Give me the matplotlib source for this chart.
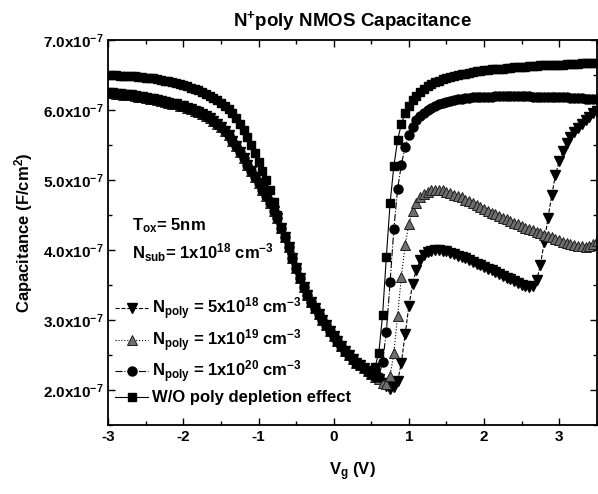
import numpy as np
import matplotlib
matplotlib.use('Agg')
import matplotlib.pyplot as plt
import matplotlib.ticker as ticker

plt.rcParams['font.family'] = 'Liberation Sans'
plt.rcParams['font.weight'] = 'bold'
plt.rcParams['axes.labelweight'] = 'bold'
plt.rcParams['axes.titleweight'] = 'bold'
plt.rcParams['mathtext.fontset'] = 'custom'
plt.rcParams['mathtext.rm'] = 'Liberation Sans:bold'
plt.rcParams['mathtext.it'] = 'Liberation Sans:bold'
plt.rcParams['mathtext.bf'] = 'Liberation Sans:bold'

# gate voltage grid, 0.05 V step
vg = np.round(np.arange(-3.0, 3.501, 0.05), 2)

# capacitance in units of 1e-7 F/cm^2
# accumulation side, -3.00 .. -0.75 V
cap_acc_ideal = [6.50, 6.50, 6.50, 6.49, 6.49, 6.49, 6.48, 6.48, 6.47, 6.47,
                 6.46, 6.46, 6.45, 6.44, 6.43, 6.42, 6.41, 6.40, 6.39, 6.37,
                 6.36, 6.34, 6.32, 6.30, 6.28, 6.26, 6.23, 6.20, 6.17, 6.14,
                 6.10, 6.06, 6.01, 5.95, 5.88, 5.80, 5.71, 5.61, 5.50, 5.38,
                 5.26, 5.13, 5.00, 4.85, 4.68, 4.50]
cap_acc_poly = [6.24, 6.24, 6.23, 6.23, 6.22, 6.21, 6.21, 6.20, 6.19, 6.18,
                6.17, 6.16, 6.15, 6.14, 6.13, 6.11, 6.10, 6.09, 6.08, 6.06,
                6.05, 6.03, 6.01, 5.99, 5.97, 5.94, 5.91, 5.88, 5.84, 5.80,
                5.75, 5.70, 5.64, 5.56, 5.48, 5.40, 5.31, 5.22, 5.13, 5.04,
                4.95, 4.86, 4.77, 4.67, 4.56, 4.45]
# depletion, shared by all curves, -0.70 .. 0.50 V
cap_dep = [4.32, 4.18, 4.04, 3.89, 3.74, 3.60, 3.47, 3.36, 3.26, 3.17,
           3.08, 3.00, 2.92, 2.84, 2.77, 2.70, 2.63, 2.56, 2.50, 2.44,
           2.39, 2.35, 2.31, 2.27, 2.23]
# inversion side, 0.55 .. 3.50 V
inv_5e18 = [2.19, 2.15, 2.10, 2.05, 2.01, 2.04, 2.12, 2.39, 2.80, 3.20,
            3.52, 3.72, 3.85, 3.93, 3.97, 3.99, 4.00, 4.00, 3.99, 3.98,
            3.96, 3.94, 3.92, 3.90, 3.88, 3.85, 3.83, 3.80, 3.78, 3.76,
            3.73, 3.71, 3.68, 3.66, 3.63, 3.60, 3.58, 3.55, 3.53, 3.50,
            3.48, 3.47, 3.49, 3.57, 3.78, 4.12, 4.45, 4.78, 5.07, 5.27,
            5.42, 5.53, 5.61, 5.68, 5.74, 5.80, 5.85, 5.90, 5.95, 5.99]
inv_1e19 = [2.19, 2.15, 2.10, 2.08, 2.20, 2.53, 3.06, 3.62, 4.07, 4.37,
            4.55, 4.67, 4.75, 4.80, 4.83, 4.85, 4.86, 4.86, 4.85, 4.83,
            4.81, 4.79, 4.77, 4.75, 4.72, 4.70, 4.67, 4.64, 4.61, 4.58,
            4.55, 4.53, 4.51, 4.49, 4.46, 4.44, 4.41, 4.39, 4.37, 4.34,
            4.32, 4.30, 4.28, 4.26, 4.24, 4.22, 4.20, 4.18, 4.16, 4.14,
            4.12, 4.10, 4.09, 4.07, 4.06, 4.05, 4.04, 4.05, 4.08, 4.13]
inv_1e20 = [2.19, 2.19, 2.40, 2.83, 3.54, 4.30, 4.87, 5.22, 5.47, 5.64,
            5.76, 5.85, 5.91, 5.96, 6.00, 6.03, 6.06, 6.08, 6.10, 6.12,
            6.13, 6.14, 6.15, 6.16, 6.17, 6.17, 6.18, 6.18, 6.19, 6.19,
            6.19, 6.19, 6.20, 6.20, 6.20, 6.20, 6.20, 6.20, 6.20, 6.20,
            6.20, 6.20, 6.19, 6.19, 6.19, 6.19, 6.19, 6.18, 6.18, 6.18,
            6.18, 6.18, 6.17, 6.17, 6.17, 6.17, 6.16, 6.16, 6.16, 6.16]
inv_ideal = [2.33, 2.53, 3.07, 3.90, 4.67, 5.20, 5.57, 5.80, 5.96, 6.06,
             6.14, 6.20, 6.26, 6.30, 6.34, 6.37, 6.40, 6.42, 6.44, 6.46,
             6.47, 6.49, 6.50, 6.51, 6.52, 6.53, 6.54, 6.55, 6.56, 6.57,
             6.57, 6.58, 6.58, 6.59, 6.59, 6.60, 6.60, 6.61, 6.61, 6.62,
             6.62, 6.63, 6.63, 6.63, 6.64, 6.64, 6.64, 6.65, 6.65, 6.65,
             6.65, 6.66, 6.66, 6.66, 6.66, 6.67, 6.67, 6.67, 6.67, 6.67]

labels = [r'N$_{\mathregular{poly}}$ = 5x10$^{18}$ cm$^{-3}$',
          r'N$_{\mathregular{poly}}$ = 1x10$^{19}$ cm$^{-3}$',
          r'N$_{\mathregular{poly}}$ = 1x10$^{20}$ cm$^{-3}$',
          'W/O poly depletion effect']

series = [cap_acc_poly + cap_dep + inv_5e18,
          cap_acc_poly + cap_dep + inv_1e19,
          cap_acc_poly + cap_dep + inv_1e20,
          cap_acc_ideal + cap_dep + inv_ideal]

styles = [dict(marker='v', ls='--', ms=7.5, mfc='black', mec='black'),
          dict(marker='^', ls=':', ms=7, mfc='#6e6e6e', mec='#1e1e1e', mew=0.7),
          dict(marker='o', ls='-.', ms=6.5, mfc='black', mec='black'),
          dict(marker='s', ls='-', ms=6, mfc='black', mec='black')]

fig = plt.figure(figsize=(5.98, 4.94), dpi=100)
ax = fig.add_axes([0.181, 0.140, 0.817, 0.779])

for c, lab, st in zip(series, labels, styles):
    ax.plot(vg, np.array(c) * 1e-7, color='black', lw=0.8, label=lab, **st)

ax.set_xlim(-3, 3.5)
ax.set_ylim(1.5e-7, 7.0e-7)
ax.xaxis.set_major_locator(ticker.MultipleLocator(1))
ax.xaxis.set_minor_locator(ticker.MultipleLocator(0.5))
ax.yaxis.set_major_locator(ticker.MultipleLocator(1e-7))
ax.yaxis.set_minor_locator(ticker.MultipleLocator(0.5e-7))
ax.yaxis.set_major_formatter(ticker.FuncFormatter(
    lambda v, p: r'$\mathregular{%.1fx10^{-7}}$' % (v / 1e-7)))
ax.xaxis.set_major_formatter(ticker.FuncFormatter(lambda v, p: '%d' % v))
ax.tick_params(which='both', direction='in', top=True, right=True, labelsize=11)
ax.tick_params(which='major', length=5, width=1)
ax.tick_params(which='minor', length=3, width=1)
for s in ax.spines.values():
    s.set_linewidth(1.3)

ax.set_xlabel(r'V$_{\mathregular{g}}$ (V)', fontsize=12, labelpad=12)
ax.set_ylabel(r'Capacitance (F/cm$^{2}$)', fontsize=12, labelpad=6)
ax.set_title(r'N$^{+}$poly NMOS Capacitance', fontsize=13.5, pad=10)

ax.text(0.048, 0.505, r'T$_{\mathregular{ox}}$= 5nm', transform=ax.transAxes, fontsize=12)
ax.text(0.048, 0.432, r'N$_{\mathregular{sub}}$= 1x10$^{18}$ cm$^{-3}$', transform=ax.transAxes, fontsize=12)

ax.legend(loc='lower left', bbox_to_anchor=(-0.01, 0.02), frameon=False, fontsize=12,
          handlelength=2.0, handletextpad=0.2, labelspacing=0.3, borderpad=0.2)

fig.savefig('out.png', dpi=100)
